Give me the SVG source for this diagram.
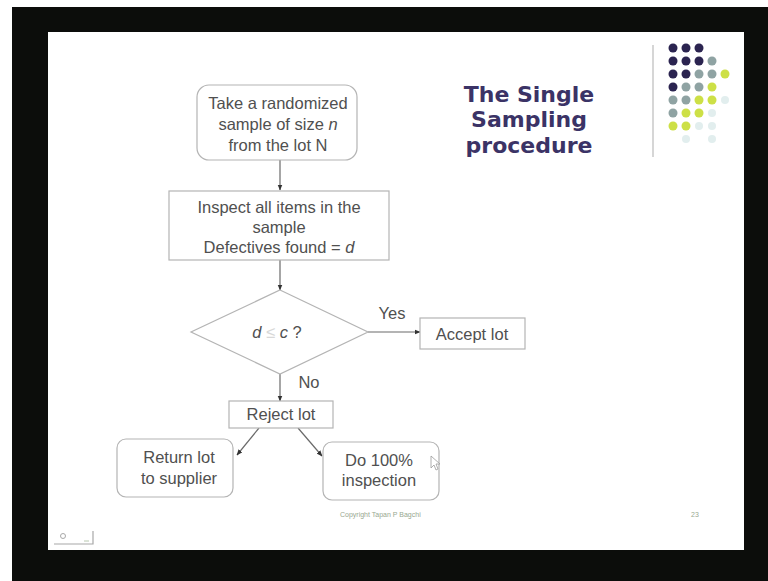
<svg xmlns="http://www.w3.org/2000/svg" width="768" height="581" viewBox="0 0 768 581">
  <style>
    .box { fill: #ffffff; stroke: #b4b4b4; stroke-width: 1.2; }
    .lbl { font-family: "Liberation Sans", Arial, sans-serif; font-size: 16.5px; fill: #505050; text-anchor: middle; }
    .edge { stroke: #6a6a6a; stroke-width: 1.2; fill: none; }
    .title { font-family: "DejaVu Sans", Verdana, sans-serif; font-weight: bold; font-size: 22px; fill: #3b3366; text-anchor: middle; }
    .dk { fill: #2b2450; }
    .gy { fill: #8fa3a3; }
    .yl { fill: #cde046; }
    .ft { fill: #e2eeee; }
    .foot { font-family: "Liberation Sans", Arial, sans-serif; font-size: 7px; fill: #98a890; }
  </style>
  <defs>
    <marker id="arrow" viewBox="0 0 10 10" refX="9" refY="5" markerWidth="5" markerHeight="5" orient="auto">
      <path d="M0,1 L10,5 L0,9 z" fill="#333333"/>
    </marker>
  </defs>

  <!-- screen frame -->
  <rect x="0" y="0" width="768" height="581" fill="#ffffff"/>
  <rect x="12" y="7" width="756" height="574" fill="#0c0d0b"/>
  <rect x="48" y="32" width="696" height="518" fill="#ffffff"/>

  <!-- title -->
  <g id="title">
    <text class="title" x="529" y="102">The Single</text>
    <text class="title" x="529" y="127">Sampling</text>
    <text class="title" x="529" y="153">procedure</text>
  </g>

  <!-- decorative dot grid -->
  <g id="decor">
    <line x1="653" y1="45" x2="653" y2="157" stroke="#c8c8c8" stroke-width="1.5"/>
    <circle class="dk" cx="673" cy="48" r="4.5"/><circle class="dk" cx="686" cy="48" r="4.5"/><circle class="dk" cx="699" cy="48" r="4.5"/>
    <circle class="dk" cx="673" cy="61" r="4.5"/><circle class="dk" cx="686" cy="61" r="4.5"/><circle class="dk" cx="699" cy="61" r="4.5"/><circle class="gy" cx="712" cy="61" r="4.5"/>
    <circle class="dk" cx="673" cy="74" r="4.5"/><circle class="dk" cx="686" cy="74" r="4.5"/><circle class="gy" cx="699" cy="74" r="4.5"/><circle class="gy" cx="712" cy="74" r="4.5"/><circle class="yl" cx="725" cy="74" r="4.5"/>
    <circle class="dk" cx="673" cy="87" r="4.5"/><circle class="gy" cx="686" cy="87" r="4.5"/><circle class="gy" cx="699" cy="87" r="4.5"/><circle class="yl" cx="712" cy="87" r="4.5"/>
    <circle class="gy" cx="673" cy="100" r="4.5"/><circle class="gy" cx="686" cy="100" r="4.5"/><circle class="yl" cx="699" cy="100" r="4.5"/><circle class="yl" cx="712" cy="100" r="4.5"/><circle class="ft" cx="725" cy="100" r="4"/>
    <circle class="gy" cx="673" cy="113" r="4.5"/><circle class="yl" cx="686" cy="113" r="4.5"/><circle class="yl" cx="699" cy="113" r="4.5"/><circle class="ft" cx="712" cy="113" r="4"/>
    <circle class="yl" cx="673" cy="126" r="4.5"/><circle class="yl" cx="686" cy="126" r="4.5"/><circle class="ft" cx="699" cy="126" r="4"/><circle class="ft" cx="712" cy="126" r="4"/>
    <circle class="ft" cx="686" cy="139" r="4"/><circle class="ft" cx="712" cy="139" r="4"/>
  </g>

  <!-- connectors -->
  <g id="connectors">
    <line class="edge" x1="280" y1="160" x2="280" y2="190" marker-end="url(#arrow)"/>
    <line class="edge" x1="280" y1="260" x2="280" y2="290" marker-end="url(#arrow)"/>
    <line class="edge" x1="368" y1="332" x2="420" y2="332" marker-end="url(#arrow)"/>
    <line class="edge" x1="280" y1="374" x2="280" y2="401" marker-end="url(#arrow)"/>
    <line class="edge" x1="259" y1="428" x2="237" y2="455" marker-end="url(#arrow)"/>
    <line class="edge" x1="298" y1="428" x2="322" y2="456" marker-end="url(#arrow)"/>
    <text class="lbl" x="392" y="319">Yes</text>
    <text class="lbl" x="309" y="388">No</text>
  </g>

  <g id="take-sample">
    <rect class="box" x="197" y="85" width="160" height="75" rx="12"/>
    <text class="lbl" x="278" y="109">Take a randomized</text>
    <text class="lbl" x="278" y="130">sample of size <tspan font-style="italic">n</tspan></text>
    <text class="lbl" x="278" y="151">from the lot N</text>
  </g>

  <g id="inspect">
    <rect class="box" x="169" y="191" width="220" height="69"/>
    <text class="lbl" x="279" y="213">Inspect all items in the</text>
    <text class="lbl" x="279" y="233">sample</text>
    <text class="lbl" x="279" y="253">Defectives found = <tspan font-style="italic">d</tspan></text>
  </g>

  <g id="decision">
    <polygon class="box" points="280,290 368,332 280,374 191,332"/>
    <text class="lbl" x="277" y="338"><tspan font-style="italic">d</tspan> <tspan fill="#d8d8d8">≤</tspan> <tspan font-style="italic">c</tspan> ?</text>
  </g>

  <g id="accept">
    <rect class="box" x="420" y="318" width="105" height="31"/>
    <text class="lbl" x="472" y="340">Accept lot</text>
  </g>

  <g id="reject">
    <rect class="box" x="229" y="401" width="104" height="27"/>
    <text class="lbl" x="281" y="420">Reject lot</text>
  </g>

  <g id="return">
    <rect class="box" x="117" y="439" width="116" height="58" rx="9"/>
    <text class="lbl" x="179" y="463">Return lot</text>
    <text class="lbl" x="179" y="484">to supplier</text>
  </g>

  <g id="full-inspection">
    <rect class="box" x="323" y="442" width="116" height="58" rx="9"/>
    <text class="lbl" x="379" y="466">Do 100%</text>
    <text class="lbl" x="379" y="486">inspection</text>
  </g>

  <!-- mouse pointer -->
  <path d="M431,456 L431,468 L434,465 L436,470 L438,469 L436,464 L440,464 z" fill="#ffffff" stroke="#9a9a9a" stroke-width="0.8"/>

  <!-- footer -->
  <g id="footer">
    <text class="foot" x="340" y="517">Copyright Tapan P Bagchi</text>
    <text class="foot" x="691" y="517">23</text>
    <path d="M54,544 L93,544 L93,531" stroke="#a8a8a8" stroke-width="1.2" fill="none"/>
    <circle cx="63" cy="536" r="2.5" fill="none" stroke="#a8a8a8" stroke-width="1"/>
    <path d="M84,541 L89,541" stroke="#b8c8b0" stroke-width="1"/>
  </g>
</svg>
